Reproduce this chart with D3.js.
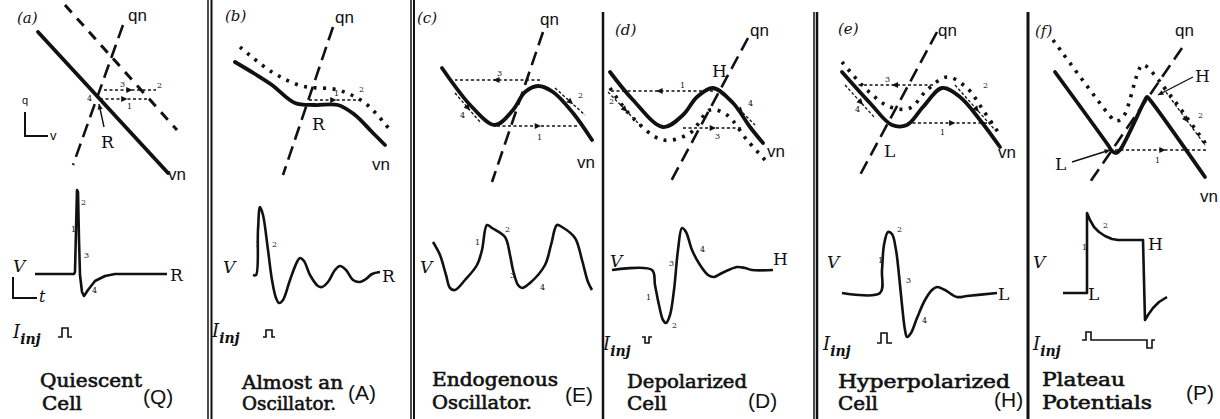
<!DOCTYPE html>
<html>
<head>
<meta charset="utf-8">
<script src="https://cdn.jsdelivr.net/npm/d3@7"></script>
<style>
  body { margin: 0; background: #fff; }
  svg { display: block; }
</style>
</head>
<body>
<div id="fig"></div>
<script>
// ---- panel layout data (panel origin in page px, units below are offsets) ----
const panelLeft = [0, 209, 413, 603, 816, 1028];
const panelTag = ["(a)", "(b)", "(c)", "(d)", "(e)", "(f)"];
const captionTop = ["Quiescent", "Almost an", "Endogenous", "Depolarized", "Hyperpolarized", "Plateau"];
const captionBottom = ["Cell", "Oscillator.", "Oscillator.", "Cell", "Cell", "Potentials"];
const captionCode = ["(Q)", "(A)", "(E)", "(D)", "(H)", "(P)"];

// phase plane curves: [v, q]
const vnA = [[38, 168], [168, 27]];
const vnShiftA = [[65, 195], [177, 70]];
const qnA = [[123, 175], [73, 35]];

const vnB = [[26, 138], [46, 126], [63, 115], [86, 97], [106, 95], [129, 95], [146, 85], [163, 68], [176, 55]];
const vnShiftB = [[31, 153], [63, 128], [93, 114], [129, 110], [156, 97], [181, 70]];
const qnB = [[124, 173], [74, 25]];

const vnC = [[29, 132], [59, 93], [82, 75], [100, 90], [112, 108], [125, 114], [140, 108], [160, 87], [179, 60]];
const qnC = [[130, 168], [79, 18]];

const vnD = [[7, 128], [30, 100], [60, 73], [80, 85], [94, 103], [110, 112], [130, 97], [147, 73], [160, 57]];
const vnShiftD = [[7, 112], [30, 82], [60, 60], [87, 67], [107, 90], [124, 85], [144, 60], [162, 40]];
const qnD = [[145, 162], [67, 17]];

const vnE = [[26, 128], [54, 97], [76, 75], [91, 75], [107, 93], [126, 112], [144, 103], [164, 80], [184, 53]];
const vnShiftE = [[26, 138], [51, 110], [74, 93], [94, 92], [111, 110], [131, 123], [151, 112], [167, 90], [184, 65]];
const qnE = [[121, 168], [44, 25]];

const vnF = [[27, 128], [80, 55], [84, 49], [88, 47], [92, 50], [117, 100], [119, 103], [122, 100], [177, 23]];
const vnShiftF = [[25, 160], [82, 84], [87, 79], [92, 80], [97, 86], [110, 128], [114, 135], [118, 134], [180, 53]];
const qnF = [[154, 152], [60, 15]];

// fast jumps: [vFrom, vTo, q]
const jumpsA = [[100, 150, 101], [104, 156, 110]];
const jumpsB = [[100, 150, 100]];
const jumpsC = [[127, 42, 120], [84, 164, 74]];
const jumpsD = [[110, 7, 109], [80, 140, 72]];
const jumpsE = [[117, 42, 115], [91, 179, 77]];
const jumpsF = [[87, 179, 50]];

// slow drift along branches: [v1, q1, v2, q2]
const driftC = [[142, 112, 172, 85], [42, 107, 67, 78]];
const driftD = [[122, 105, 152, 75], [5, 108, 37, 75]];
const driftE = [[139, 115, 179, 70], [29, 115, 59, 82]];
const driftF = [[135, 112, 177, 55]];

// voltage traces: [t, V]
const traceA = [[35, 86], [74, 86], [75, 88], [76, 130], [77, 170], [78, 168], [79, 120], [80, 85], [82, 68], [84, 64], [88, 70], [95, 79], [105, 84], [115, 86], [167, 86]];
const traceB = [[44, 85], [47, 85], [49, 130], [51, 153], [54, 145], [59, 110], [63, 80], [67, 62], [70, 57], [74, 60], [81, 80], [88, 98], [91, 102], [95, 99], [101, 85], [109, 74], [113, 73], [119, 78], [126, 90], [131, 94], [137, 90], [144, 80], [151, 78], [157, 81], [163, 86], [171, 88]];
const traceC = [[20, 118], [27, 105], [33, 85], [37, 72], [42, 70], [52, 80], [64, 95], [69, 110], [74, 135], [79, 132], [92, 123], [97, 105], [100, 90], [105, 75], [109, 72], [117, 77], [132, 95], [138, 115], [144, 135], [149, 133], [162, 122], [169, 100], [175, 78], [179, 70]];
const traceD = [[9, 90], [49, 90], [52, 75], [56, 55], [60, 40], [63, 37], [67, 45], [71, 70], [75, 110], [79, 132], [83, 128], [89, 110], [97, 95], [105, 85], [111, 83], [119, 87], [134, 93], [142, 92], [149, 90], [170, 90]];
const traceE = [[26, 67], [64, 67], [66, 90], [68, 115], [72, 128], [76, 126], [80, 110], [83, 85], [86, 55], [89, 30], [91, 23], [95, 27], [101, 42], [109, 60], [116, 70], [121, 73], [129, 70], [141, 63], [151, 64], [181, 67]];
const traceF = [[35, 67], [59, 67], [59, 147], [62, 140], [66, 133], [71, 128], [77, 124], [84, 121], [90, 120], [115, 120], [117, 40], [120, 45], [125, 52], [131, 58], [139, 63]];

// injected current pulses: [t, I]
const pulseA = [[58, 23], [62, 23], [62, 32], [68, 32], [68, 23], [72, 23]];
const pulseB = [[54, 23], [57, 23], [57, 30], [63, 30], [63, 23], [66, 23]];
const pulseD = [[39, 23], [42, 23], [42, 17], [46, 17], [46, 23], [49, 23]];
const pulseE = [[61, 17], [65, 17], [65, 27], [71, 27], [71, 17], [76, 17]];
const pulseF = [[54, 20], [58, 20], [58, 28], [63, 28], [63, 20], [119, 20], [119, 12], [124, 12], [124, 20], [127, 20]];

// labels on the phase plane: [text, v, q, kind]
const phaseLabelsA = [["qn", 128, 179, "s"], ["vn", 168, 20, "s"], ["R", 101, 52, "r"], ["3", 120, 113, "n"], ["2", 157, 112, "n"], ["1", 127, 91, "n"], ["4", 87, 99, "n"]];
const phaseLabelsB = [["qn", 126, 177, "s"], ["vn", 163, 30, "s"], ["R", 103, 70, "r"], ["1", 125, 104, "n"], ["2", 150, 108, "n"]];
const phaseLabelsC = [["qn", 127, 175, "s"], ["vn", 164, 32, "s"], ["3", 84, 124, "n"], ["1", 124, 60, "n"], ["2", 165, 102, "n"], ["4", 47, 82, "n"]];
const phaseLabelsD = [["qn", 147, 164, "s"], ["vn", 164, 43, "s"], ["H", 109, 123, "r"], ["1", 77, 112, "n"], ["3", 112, 61, "n"], ["4", 145, 94, "n"], ["2", 6, 96, "n"]];
const phaseLabelsE = [["qn", 122, 164, "s"], ["vn", 182, 42, "s"], ["L", 68, 43, "r"], ["3", 69, 118, "n"], ["1", 124, 65, "n"], ["2", 167, 112, "n"], ["4", 39, 88, "n"]];
const phaseLabelsF = [["qn", 147, 164, "s"], ["vn", 172, -2, "s"], ["L", 27, 30, "r"], ["H", 167, 118, "r"], ["1", 127, 37, "n"], ["2", 170, 82, "n"]];

// labels on the traces: [text, t, V, kind]
const traceLabelsA = [["R", 170, 79, "r"], ["1", 71, 128, "n"], ["2", 81, 155, "n"], ["3", 84, 102, "n"], ["4", 92, 67, "n"]];
const traceLabelsB = [["R", 173, 78, "r"], ["1", 46, 113, "n"], ["2", 63, 113, "n"]];
const traceLabelsC = [["1", 62, 115, "n"], ["2", 92, 128, "n"], ["3", 97, 82, "n"], ["4", 127, 70, "n"]];
const traceLabelsD = [["H", 170, 95, "r"], ["1", 43, 60, "n"], ["2", 69, 32, "n"], ["3", 66, 94, "n"], ["4", 97, 108, "n"]];
const traceLabelsE = [["L", 182, 60, "r"], ["1", 62, 97, "n"], ["2", 81, 128, "n"], ["3", 90, 77, "n"], ["4", 106, 37, "n"]];
const traceLabelsF = [["L", 60, 60, "r"], ["H", 120, 110, "r"], ["1", 54, 110, "n"], ["2", 75, 132, "n"]];

// pointer lines to fixed points: [v1, q1, v2, q2]
const pointersA = [[104, 73, 99, 96]];
const pointersF = [[44, 38, 82, 50], [165, 123, 130, 105]];

const panels = [
  { vn: vnA, shift: vnShiftA, shiftStyle: "dash", qn: qnA, jumps: jumpsA, drift: [], trace: traceA, pulse: pulseA, pl: phaseLabelsA, tl: traceLabelsA, ptr: pointersA, smooth: false },
  { vn: vnB, shift: vnShiftB, shiftStyle: "dot", qn: qnB, jumps: jumpsB, drift: [], trace: traceB, pulse: pulseB, pl: phaseLabelsB, tl: traceLabelsB, ptr: [], smooth: true },
  { vn: vnC, shift: null, qn: qnC, jumps: jumpsC, drift: driftC, trace: traceC, pulse: null, pl: phaseLabelsC, tl: traceLabelsC, ptr: [], smooth: true },
  { vn: vnD, shift: vnShiftD, shiftStyle: "dot", qn: qnD, jumps: jumpsD, drift: driftD, trace: traceD, pulse: pulseD, pl: phaseLabelsD, tl: traceLabelsD, ptr: [], smooth: true },
  { vn: vnE, shift: vnShiftE, shiftStyle: "dot", qn: qnE, jumps: jumpsE, drift: driftE, trace: traceE, pulse: pulseE, pl: phaseLabelsE, tl: traceLabelsE, ptr: [], smooth: true },
  { vn: vnF, shift: vnShiftF, shiftStyle: "dot", qn: qnF, jumps: jumpsF, drift: driftF, trace: traceF, pulse: pulseF, pl: phaseLabelsF, tl: traceLabelsF, ptr: pointersF, smooth: false }
];

// ---- drawing ----
const W = 1220, H = 419;
const SERIF = "'DejaVu Serif', 'Liberation Serif', serif";
const SANS = "'Liberation Sans', Arial, sans-serif";
const INK = "#111";

const svg = d3.select("#fig").append("svg").attr("width", W).attr("height", H);
svg.append("rect").attr("width", W).attr("height", H).attr("fill", "#fff");

const smoothLine = d3.line().curve(d3.curveCatmullRom.alpha(0.5));
const straightLine = d3.line();

function arrowHead(g, px, py, ang, size) {
  const a = 0.45;
  const p = [[px, py],
    [px - size * Math.cos(ang - a), py - size * Math.sin(ang - a)],
    [px - size * Math.cos(ang + a), py - size * Math.sin(ang + a)]];
  g.append("path").attr("d", straightLine(p) + "Z").attr("fill", INK);
}

function label(g, txt, px, py, kind) {
  const t = g.append("text").attr("x", px).attr("y", py).attr("fill", INK).text(txt);
  if (kind === "s") t.style("font-family", SANS).style("font-size", "17px");
  else if (kind === "r") t.style("font-family", SERIF).style("font-size", "17px");
  else t.style("font-family", SERIF).style("font-size", "8px");
}

panels.forEach((p, i) => {
  const L = panelLeft[i];
  const x = d3.scaleLinear().domain([0, 200]).range([L, L + 200]);
  const yq = d3.scaleLinear().domain([0, 200]).range([200, 0]);
  const yv = d3.scaleLinear().domain([0, 150]).range([360, 210]);
  const P = d => [x(d[0]), yq(d[1])];
  const T = d => [x(d[0]), yv(d[1])];
  const g = svg.append("g");
  const curve = p.vn.length > 2 ? smoothLine : straightLine;

  // fast jumps (thin dashed, with arrow)
  p.jumps.forEach(([v1, v2, q]) => {
    g.append("path").attr("d", straightLine([P([v1, q]), P([v2, q])]))
      .attr("fill", "none").attr("stroke", INK).attr("stroke-width", 1.3).attr("stroke-dasharray", "3,2.5");
    const dir = v2 > v1 ? 0 : Math.PI;
    const m = P([v1 + (v2 - v1) * 0.55, q]);
    arrowHead(g, m[0], m[1], dir, 7);
  });
  // slow drift along branches
  p.drift.forEach(([v1, q1, v2, q2]) => {
    const a = P([v1, q1]), b = P([v2, q2]);
    g.append("path").attr("d", straightLine([a, b]))
      .attr("fill", "none").attr("stroke", INK).attr("stroke-width", 1.3).attr("stroke-dasharray", "3,2");
    const ang = Math.atan2(b[1] - a[1], b[0] - a[0]);
    arrowHead(g, a[0] + (b[0] - a[0]) * 0.6, a[1] + (b[1] - a[1]) * 0.6, ang, 7);
  });

  // shifted nullcline
  if (p.shift) {
    const s = g.append("path").attr("d", (p.shift.length > 2 ? smoothLine : straightLine)(p.shift.map(P)))
      .attr("fill", "none").attr("stroke", INK);
    if (p.shiftStyle === "dash") s.attr("stroke-width", 3).attr("stroke-dasharray", "10,8");
    else s.attr("stroke-width", 3.6).attr("stroke-dasharray", "3,6.5");
  }
  // q nullcline
  g.append("path").attr("d", straightLine(p.qn.map(P)))
    .attr("fill", "none").attr("stroke", INK).attr("stroke-width", 2.6).attr("stroke-dasharray", "14,7");
  // v nullcline
  g.append("path").attr("d", curve(p.vn.map(P)))
    .attr("fill", "none").attr("stroke", INK).attr("stroke-width", 3.8).attr("stroke-linecap", "round");

  p.ptr.forEach(([v1, q1, v2, q2]) => {
    const a = P([v1, q1]), b = P([v2, q2]);
    g.append("path").attr("d", straightLine([a, b])).attr("stroke", INK).attr("stroke-width", 1.4).attr("fill", "none");
    arrowHead(g, b[0], b[1], Math.atan2(b[1] - a[1], b[0] - a[0]), 6);
  });
  p.pl.forEach(([t, v, q, k]) => { const c = P([v, q]); label(g, t, c[0], c[1], k); });

  // voltage trace
  g.append("path").attr("d", (p.smooth ? smoothLine : straightLine)(p.trace.map(T)))
    .attr("fill", "none").attr("stroke", INK).attr("stroke-width", 2.6).attr("stroke-linejoin", "round");
  p.tl.forEach(([t, tt, v, k]) => { const c = T([tt, v]); label(g, t, c[0], c[1], k); });

  // injected current
  if (p.pulse) {
    g.append("path").attr("d", straightLine(p.pulse.map(T)))
      .attr("fill", "none").attr("stroke", INK).attr("stroke-width", 1.6);
  }
});

// ---- text: tags, axis letters, captions ----
const tagPos = [[17, 23], [225, 21], [417, 23], [615, 35], [838, 34], [1035, 36]];
const vPos = [[13, 272], [223, 273], [420, 273], [610, 267], [827, 268], [1033, 268]];
const iPos = [[13, 338], [212, 337], null, [603, 350], [823, 350], [1033, 350]];
const capPos = [[40, 387, 102], [242, 389, 101], [432, 386, 126], [627, 388, 120], [838, 388, 172], [1042, 386, 83]];
const capPos2 = [[42, 410, 40], [242, 410, 94], [432, 409, 100], [627, 410, 40], [838, 410, 40], [1042, 409, 110]];
const codePos = [[143, 404], [348, 400], [565, 402], [748, 408], [994, 407], [1186, 400]];

panelTag.forEach((t, i) => {
  svg.append("text").attr("x", tagPos[i][0]).attr("y", tagPos[i][1]).text(t)
    .style("font-family", SERIF).style("font-style", "italic").style("font-size", "15px").attr("fill", INK);
  svg.append("text").attr("x", vPos[i][0]).attr("y", vPos[i][1]).text("V")
    .style("font-family", SERIF).style("font-style", "italic").style("font-size", "17px").attr("fill", INK);
  if (iPos[i]) {
    const it = svg.append("text").attr("x", iPos[i][0]).attr("y", iPos[i][1])
      .style("font-family", SERIF).style("font-style", "italic").attr("fill", INK);
    it.append("tspan").style("font-size", "18px").text("I");
    it.append("tspan").attr("dy", 6).style("font-size", "14px").style("font-weight", "bold").text("inj");
  }
  [[captionTop[i], capPos[i]], [captionBottom[i], capPos2[i]]].forEach(([txt, pos]) => {
    svg.append("text").attr("x", pos[0]).attr("y", pos[1]).text(txt)
      .attr("textLength", pos[2]).attr("lengthAdjust", "spacingAndGlyphs")
      .style("font-family", SERIF).style("font-size", "18px")
      .attr("fill", INK).attr("stroke", INK).attr("stroke-width", 0.6);
  });
  svg.append("text").attr("x", codePos[i][0]).attr("y", codePos[i][1]).text(captionCode[i])
    .style("font-family", SANS).style("font-size", "21px").attr("fill", INK);
});

// panel (a) axis keys
const keyA = svg.append("g").attr("stroke", INK).attr("fill", "none").attr("stroke-width", 2);
keyA.append("path").attr("d", straightLine([[25, 112], [25, 136], [48, 136]]));
keyA.append("path").attr("d", straightLine([[13, 277], [13, 298], [37, 298]]));
svg.append("text").attr("x", 22).attr("y", 104).text("q").style("font-family", SANS).style("font-size", "11px").attr("fill", INK);
svg.append("text").attr("x", 50).attr("y", 140).text("v").style("font-family", SANS).style("font-size", "13px").attr("fill", INK);
svg.append("text").attr("x", 39).attr("y", 302).text("t").style("font-family", SERIF).style("font-style", "italic").style("font-size", "16px").attr("fill", INK);

// panel dividers
const dividers = [[208, 0, 1.5], [211.5, 0, 2], [411, 0, 1.5], [414, 0, 2], [603, 12, 2.5], [814, 12, 1.5], [817, 12, 2.5], [1028, 12, 3]];
dividers.forEach(([dx, top, w]) => {
  svg.append("line").attr("x1", dx).attr("x2", dx).attr("y1", top).attr("y2", H)
    .attr("stroke", INK).attr("stroke-width", w);
});
</script>
</body>
</html>
